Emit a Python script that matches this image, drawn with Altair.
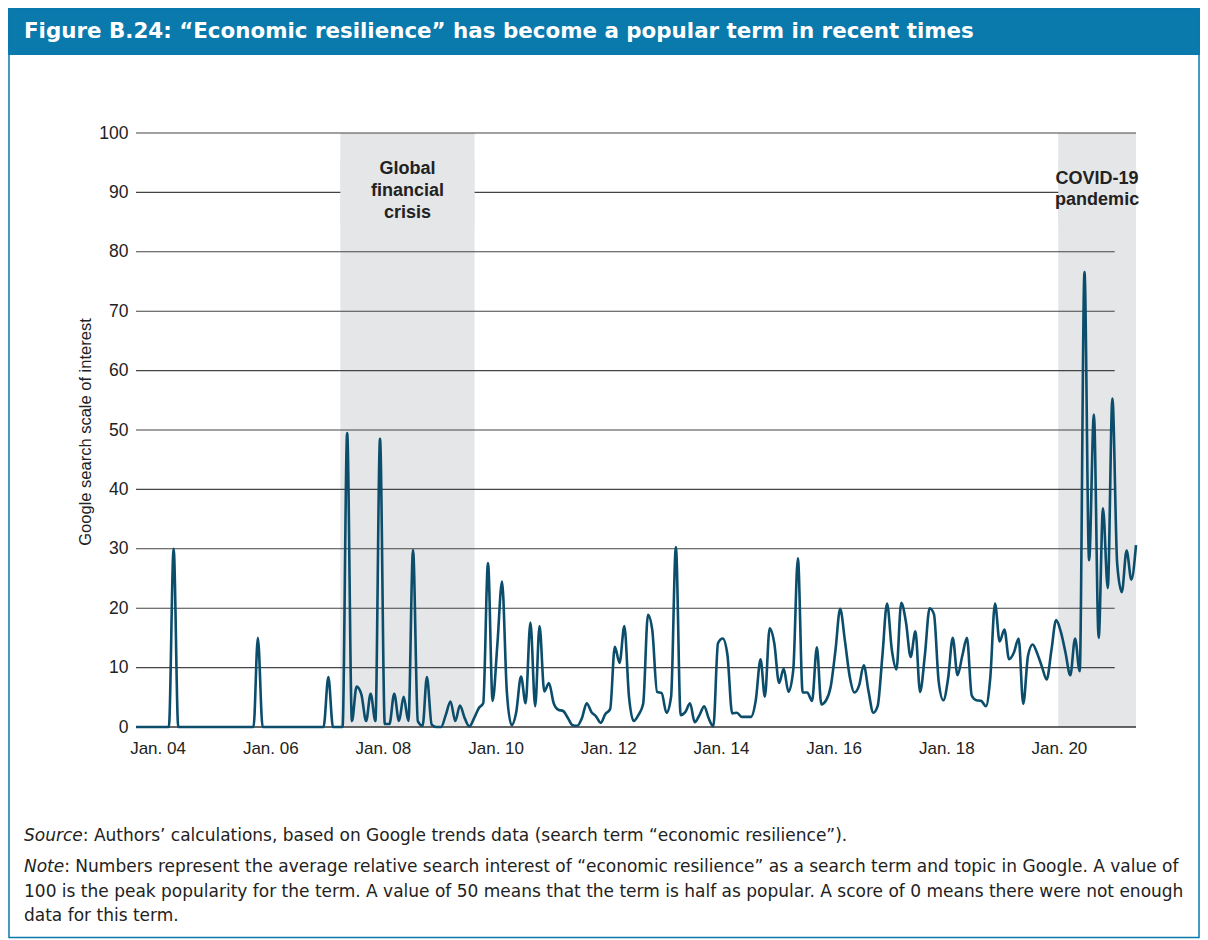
import altair as alt
import pandas as pd

# ---- data (Google search interest, monthly) ----
v2004 = [0, 0, 0, 0, 0, 0, 0, 0, 30, 0, 0, 0]
v2005 = [0, 0, 0, 0, 0, 0, 0, 0, 0, 0, 0, 0]
v2006 = [0, 0, 15, 0, 0, 0, 0, 0, 0, 0, 0, 0]
v2007 = [0, 0, 0, 0, 0, 8.4, 0, 0, 0, 49.5, 1, 6.8]
v2008 = [5.5, 1, 5.6, 1, 48.5, 0.5, 0.5, 5.6, 1, 5.1, 1, 29.8]
v2009 = [1, 0.2, 8.4, 0.4, 0, 0, 2, 4.3, 1, 3.6, 1.5, 0.1]
v2010 = [1.5, 3.2, 4.0, 27.6, 4.4, 14, 24.5, 6, 0.3, 2.5, 8.5, 4.0]
v2011 = [17.6, 3.5, 17.0, 6, 7.4, 4, 2.9, 2.7, 1.5, 0.3, 0.2, 1.5]
v2012 = [4.0, 2.5, 1.8, 0.7, 2.2, 3, 13.5, 10.8, 17.0, 5.1, 1, 2]
v2013 = [3.9, 18.9, 16.3, 5.9, 5.7, 2.4, 5.1, 30.3, 2.0, 2.5, 4.0, 0.8]
v2014 = [2, 3.5, 1.5, 0.1, 14.1, 14.9, 12.2, 2.3, 2.4, 1.7, 1.7, 1.7]
v2015 = [4.5, 11.4, 5.1, 16.6, 14.1, 7.4, 9.8, 5.9, 9.6, 28.4, 5.8, 5.8]
v2016 = [4.4, 13.4, 3.8, 4.5, 6.8, 13, 19.9, 14.5, 8.5, 5.8, 7, 10.4]
v2017 = [6, 2.4, 3.5, 12, 20.8, 13, 9.7, 20.9, 17.6, 11.8, 16.1, 5.9]
v2018 = [12, 20.0, 19, 7.6, 4.5, 8.2, 15.0, 8.7, 12, 15.0, 5.3, 4.5]
v2019 = [4.4, 3.5, 8.2, 20.8, 14.4, 16.4, 11.4, 12.5, 14.9, 3.9, 12, 13.9]
v2020 = [12.3, 10, 8.0, 13, 18.0, 16, 12.5, 8.7, 14.9, 9.4, 76.6, 28.1]
v2021 = [52.6, 15.0, 36.8, 23.4, 55.3, 27.5, 22.7, 29.7, 24.8, 30.6]

x_tick_years = [2004, 2006, 2008, 2010, 2012, 2014, 2016, 2018, 2020]
y_ticks = [0, 10, 20, 30, 40, 50, 60, 70, 80, 90, 100]
grid_values = [10, 20, 30, 40, 50, 60, 70, 80, 90, 100]
grid_ends = ["2021-05-16T00:00:00"] * 8 + ["2021-10-01T00:00:00"] * 2

shade_names = ["Global financial crisis", "COVID-19 pandemic"]
shade_start = ["2007-08-18T00:00:00", "2020-05-15T00:00:00"]
shade_end = ["2010-01-04T00:00:00", "2021-10-01T00:00:00"]

gfc_lines = ["Global", "financial", "crisis"]
gfc_line_y = [94.0, 90.2, 86.5]
covid_lines = ["COVID-19", "pandemic"]
covid_line_y = [92.3, 88.7]

title_text = "Figure B.24: \u201cEconomic resilience\u201d has become a popular term in recent times"
y_title = "Google search scale of interest"
source_label = "Source"
source_text = ": Authors\u2019 calculations, based on Google trends data (search term \u201ceconomic resilience\u201d)."
note_label = "Note"
note_lines = [
    ": Numbers represent the average relative search interest of \u201ceconomic resilience\u201d as a search term and topic in Google. A value of",
    "100 is the peak popularity for the term. A value of 50 means that the term is half as popular. A score of 0 means there were not enough",
    "data for this term.",
]

# ---- tables ----
values = (v2004 + v2005 + v2006 + v2007 + v2008 + v2009 + v2010 + v2011 + v2012
          + v2013 + v2014 + v2015 + v2016 + v2017 + v2018 + v2019 + v2020 + v2021)
dates = pd.date_range("2004-01-01", periods=len(values), freq="MS").strftime("%Y-%m-%dT00:00:00")
df = pd.DataFrame({"date": list(dates), "value": values})

shade_df = pd.DataFrame({"name": shade_names, "start": shade_start, "end": shade_end,
                         "top": [100, 100], "bot": [0, 0]})
box_df = pd.DataFrame({"start": shade_start, "end": shade_end, "top": [95.6, 95.6], "bot": [84.4, 84.4]})

gfc_mid = pd.to_datetime(shade_start[0]) + (pd.to_datetime(shade_end[0]) - pd.to_datetime(shade_start[0])) / 2
cov_mid = pd.to_datetime(shade_start[1]) + (pd.to_datetime(shade_end[1]) - pd.to_datetime(shade_start[1])) / 2
ann_df = pd.DataFrame({
    "date": [gfc_mid.strftime("%Y-%m-%dT%H:%M:%S")] * len(gfc_lines) + [cov_mid.strftime("%Y-%m-%dT%H:%M:%S")] * len(covid_lines),
    "y": gfc_line_y + covid_line_y,
    "text": gfc_lines + covid_lines,
})
grid_df = pd.DataFrame({"v": grid_values, "x0": ["2004-01-01T00:00:00"] * len(grid_values), "x1": grid_ends})
base_df = pd.DataFrame({"v": [0]})
one = pd.DataFrame({"a": [0]})

FONT = "Liberation Sans"
WIDE = "DejaVu Sans"
BLUE = "#0a7aad"
GREY = "#e5e6e8"
LINE = "#0b4d6b"
TXT = "#222222"

W, H = 1000, 594
TOTAL_H = 931

x_dom = [alt.DateTime(year=2004, month=1, date=1), alt.DateTime(year=2021, month=10, date=1)]
xs = alt.Scale(domain=x_dom)
ys = alt.Scale(domain=[0, 100], nice=False)

title_bar = alt.Chart(one).mark_rect(color=BLUE).encode(
    x=alt.value(-128), x2=alt.value(1064), y=alt.value(-125), y2=alt.value(-78))
frame = alt.Chart(one).mark_rect(fillOpacity=0, stroke=BLUE, strokeWidth=1.5).encode(
    x=alt.value(-127), x2=alt.value(1063), y=alt.value(-124), y2=alt.value(TOTAL_H - 125 - 1.5))
title = alt.Chart(one).mark_text(align="left", baseline="middle", font=WIDE, fontSize=21.4,
                                 fontWeight="bold", color="white").encode(
    x=alt.value(-112), y=alt.value(-101), text=alt.value(title_text))

shade = alt.Chart(shade_df).mark_rect(color=GREY).encode(
    x=alt.X("start:T", scale=xs), x2="end:T",
    y=alt.Y("top:Q", scale=ys), y2="bot:Q")
grid = alt.Chart(grid_df).mark_rule(color="#444444", strokeWidth=1.1).encode(
    x=alt.X("x0:T", scale=xs), x2="x1:T",
    y=alt.Y("v:Q", scale=ys))
base = alt.Chart(base_df).mark_rule(color="#333333", strokeWidth=1.6).encode(
    y=alt.Y("v:Q", scale=ys))
boxes = alt.Chart(box_df).mark_rect(color=GREY).encode(
    x=alt.X("start:T", scale=xs), x2="end:T",
    y=alt.Y("top:Q", scale=ys), y2="bot:Q")
ann = alt.Chart(ann_df).mark_text(font=FONT, fontSize=18, fontWeight="bold", color=TXT,
                                  align="center", baseline="middle").encode(
    x=alt.X("date:T", scale=xs), y=alt.Y("y:Q", scale=ys), text="text:N")

line = alt.Chart(df).mark_line(color=LINE, strokeWidth=2.6, interpolate="monotone").encode(
    x=alt.X("date:T", scale=xs, title="",
            axis=alt.Axis(values=[alt.DateTime(year=y, month=1, date=1) for y in x_tick_years],
                          labelExpr="'Jan. ' + timeFormat(datum.value, '%y')",
                          labelOffset=21.5, ticks=False, tickSize=0, domain=False, grid=False,
                          labelFont=FONT, labelFontSize=17, labelColor=TXT, labelPadding=13,
                          labelFlush=False, labelOverlap=False)),
    y=alt.Y("value:Q", scale=ys, title="",
            axis=alt.Axis(values=y_ticks, ticks=False, tickSize=0, domain=False, grid=False,
                          labelFont=FONT, labelFontSize=17.5, labelColor=TXT, labelPadding=8)),
)

ytitle = alt.Chart(one).mark_text(font=FONT, fontSize=16.5, color=TXT, angle=270,
                                  align="center", baseline="middle").encode(
    x=alt.value(-50), y=alt.value(299), text=alt.value(y_title))

foot_size = 17.0
src_w = 3.457 * foot_size
note_w = 2.367 * foot_size
src1 = alt.Chart(one).mark_text(align="left", baseline="middle", font=WIDE, fontSize=foot_size,
                                fontStyle="italic", color=TXT).encode(
    x=alt.value(-112), y=alt.value(703), text=alt.value(source_label))
src2 = alt.Chart(one).mark_text(align="left", baseline="middle", font=WIDE, fontSize=foot_size,
                                color=TXT).encode(
    x=alt.value(-112 + src_w), y=alt.value(703), text=alt.value(source_text))
note1 = alt.Chart(one).mark_text(align="left", baseline="middle", font=WIDE, fontSize=foot_size,
                                 fontStyle="italic", color=TXT).encode(
    x=alt.value(-112), y=alt.value(734), text=alt.value(note_label))
note2 = alt.Chart(one).mark_text(align="left", baseline="middle", font=WIDE, fontSize=foot_size,
                                 color=TXT).encode(
    x=alt.value(-112 + note_w), y=alt.value(734), text=alt.value(note_lines[0]))
note3 = alt.Chart(one).mark_text(align="left", baseline="middle", font=WIDE, fontSize=foot_size,
                                 color=TXT).encode(
    x=alt.value(-112), y=alt.value(759), text=alt.value(note_lines[1]))
note4 = alt.Chart(one).mark_text(align="left", baseline="middle", font=WIDE, fontSize=foot_size,
                                 color=TXT).encode(
    x=alt.value(-112), y=alt.value(783), text=alt.value(note_lines[2]))

chart = alt.layer(
    title_bar, frame, title, shade, grid, base, boxes, ann, line, ytitle,
    src1, src2, note1, note2, note3, note4,
).properties(
    width=W, height=H,
    padding={"left": 128, "top": 125, "right": 64, "bottom": TOTAL_H - 125 - H},
    autosize=alt.AutoSizeParams(type="none"),
    background="white",
).configure_view(strokeWidth=0)

chart.save("out.html", embed_options={"renderer": "svg", "actions": False})
